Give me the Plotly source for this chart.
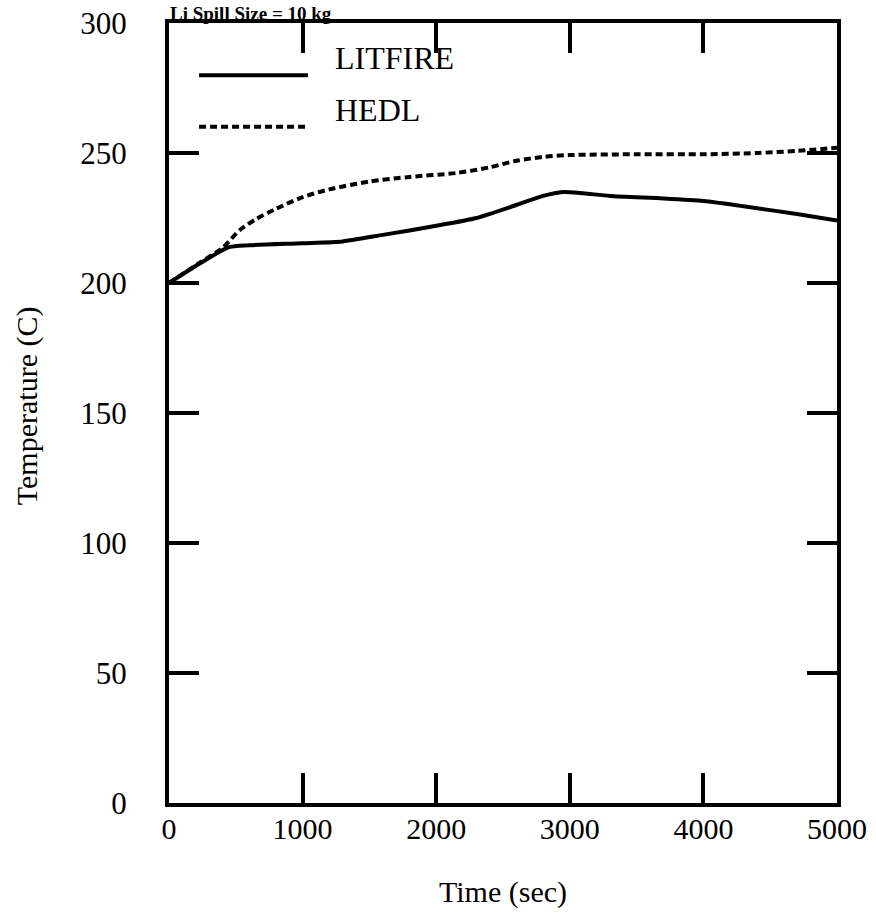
import plotly.graph_objects as go

# Time (sec) and temperature (C) for each model
litfire_time = [0, 230, 450, 600, 1000, 1300, 1600, 2000, 2300, 2600, 2800, 2950,
                3100, 3300, 3700, 4000, 4300, 4700, 5000]
litfire_temp = [200, 207.5, 213.8, 214.5, 215.3, 216, 218.5, 222, 225, 230, 233.5, 235,
                234.5, 233.5, 232.5, 231.5, 229.5, 226.5, 224]

hedl_time = [0, 230, 400, 531, 650, 800, 1000, 1200, 1500, 1800, 2150, 2400, 2600,
             2800, 3000, 3500, 4000, 4400, 4700, 5000]
hedl_temp = [200, 207.8, 213.5, 220.4, 224.5, 228.5, 233, 236, 239, 240.8, 242.3, 244.5, 247,
             248.5, 249.2, 249.5, 249.5, 250, 250.8, 252]

x_ticks = [0, 1000, 2000, 3000, 4000, 5000]
y_ticks = [0, 50, 100, 150, 200, 250, 300]

FONT = "Liberation Serif"
INK = "black"

fig = go.Figure()
fig.add_trace(go.Scatter(x=litfire_time, y=litfire_temp, mode="lines", name="LITFIRE",
                         line=dict(color=INK, width=4, shape="spline", smoothing=0.6)))
fig.add_trace(go.Scatter(x=hedl_time, y=hedl_temp, mode="lines", name="HEDL",
                         line=dict(color=INK, width=4, dash="7px,4px", shape="spline", smoothing=0.8)))

axis_common = dict(
    showline=True, linewidth=4, linecolor=INK, mirror="ticks",
    ticks="inside", ticklen=30, tickwidth=3.5, tickcolor=INK,
    showgrid=False, zeroline=False, automargin=False,
)

fig.update_xaxes(range=[0, 5000], tickvals=x_ticks, ticktext=[str(v) for v in x_ticks],
                 tickfont=dict(family=FONT, size=30, color=INK), ticklabelstandoff=-4,
                 title=dict(text="Time (sec)", font=dict(family=FONT, size=30, color=INK), standoff=38),
                 **axis_common)
fig.update_yaxes(range=[0, 300], tickvals=y_ticks, ticktext=[str(v) for v in y_ticks],
                 tickfont=dict(family=FONT, size=31, color=INK), ticklabelstandoff=32,
                 **axis_common)

# Vertical axis title, placed at the far left of the page
fig.add_annotation(xref="paper", yref="paper", x=-0.2126, y=0.51, xanchor="center", yanchor="middle",
                   text="Temperature (C)", textangle=-90, showarrow=False,
                   font=dict(family=FONT, size=30, color=INK))

# Legend drawn inside the plot area: sample lines plus labels
legend_rows = [("LITFIRE", "solid", 0.933), ("HEDL", "7px,4px", 0.867)]
for label, dash, yp in legend_rows:
    fig.add_shape(type="line", xref="paper", yref="paper", x0=0.045, x1=0.208, y0=yp, y1=yp,
                  line=dict(color=INK, width=4, dash=dash))
    fig.add_annotation(xref="paper", yref="paper", x=0.245, y=yp, xanchor="left", yanchor="bottom",
                       text=label, showarrow=False, yshift=-3,
                       font=dict(family=FONT, size=32, color=INK))

# Chart heading along the top edge
fig.add_annotation(xref="paper", yref="paper", x=0.0, y=1, xanchor="left", yanchor="bottom",
                   text="<b>Li Spill Size = 10 kg</b>", showarrow=False, yshift=-2, borderpad=0,
                   font=dict(family=FONT, size=19, color=INK))

fig.update_layout(
    width=876, height=918,
    margin=dict(l=169, r=39, t=23, b=115),
    paper_bgcolor="white", plot_bgcolor="white",
    showlegend=False,
)

fig.write_html("out.html")
